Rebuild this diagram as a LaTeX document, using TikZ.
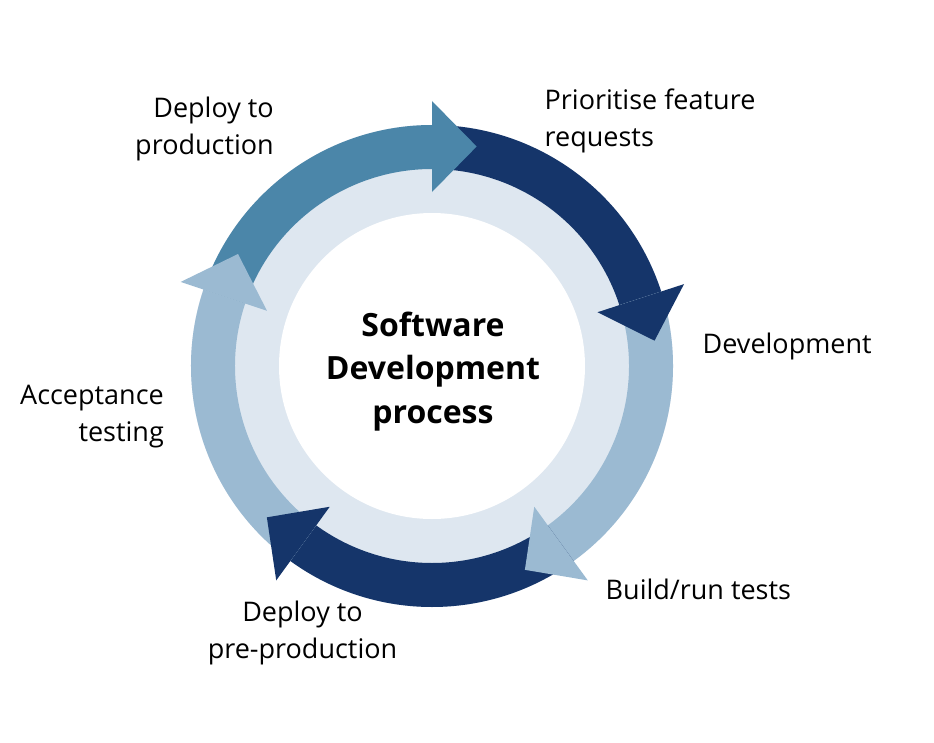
\documentclass[tikz,border=0pt]{standalone}
\usepackage{fontspec}
\setmainfont{Open Sans}
\definecolor{ringc}{HTML}{DEE7F0}
\definecolor{medc}{HTML}{4B86A9}
\definecolor{darkc}{HTML}{15356A}
\definecolor{lightc}{HTML}{9BBAD2}
\newcommand{\bodyarc}[3]{% color, start angle, end angle
  \fill[#1] (#2:197) arc[start angle=#2, end angle=#3, radius=197]
    -- (#3:241) arc[start angle=#3, end angle=#2, radius=241] -- cycle;}
\newcommand{\headtri}[2]{% color, base angle
  \fill[#1] (#2:174) -- (#2:265) -- ({#2-11.5}:224) -- cycle;}
\begin{document}
\begin{tikzpicture}[x=1pt,y=1pt,
  lbl/.style={inner sep=0pt, font=\fontsize{27}{37}\selectfont},
  ttl/.style={inner sep=0pt, font=\bfseries\fontsize{32}{43.5}\selectfont}]
\useasboundingbox (-432,-376) rectangle (502,366);
\fill[white] (-432,-376) rectangle (502,366);
% inner light ring and white centre
\fill[ringc] (0,0) circle[radius=241];
\fill[white] (0,0) circle[radius=153];
% arrow bodies (clockwise)
\bodyarc{medc}{161.5}{90}
\bodyarc{darkc}{90}{18}
\bodyarc{lightc}{18}{-54}
\bodyarc{darkc}{-54}{-126}
\bodyarc{lightc}{-126}{-198.5}
% arrow heads
\headtri{medc}{90}
\headtri{darkc}{18}
\headtri{lightc}{-54}
\headtri{darkc}{-126}
\headtri{lightc}{161.5}
% labels
\node[ttl, anchor=base] (title) at (1,30)
  {\begin{tabular}[t]{@{}c@{}}Software\\Development\\process\end{tabular}};
\node[lbl, anchor=base east] (prod) at (-158,248)
  {\begin{tabular}[t]{@{}r@{}}Deploy to\\production\end{tabular}};
\node[lbl, anchor=base west] (prio) at (112.5,256)
  {\begin{tabular}[t]{@{}l@{}}Prioritise feature\\requests\end{tabular}};
\node[lbl, anchor=base west] (dev) at (270.5,13) {Development};
\node[lbl, anchor=base west] (build) at (173.5,-233) {Build/run tests};
\node[lbl, anchor=base] (preprod) at (-129.5,-255)
  {\begin{tabular}[t]{@{}c@{}}Deploy to\\pre-production\end{tabular}};
\node[lbl, anchor=base east] (accept) at (-268,-38)
  {\begin{tabular}[t]{@{}r@{}}Acceptance\\testing\end{tabular}};
\end{tikzpicture}
\end{document}
